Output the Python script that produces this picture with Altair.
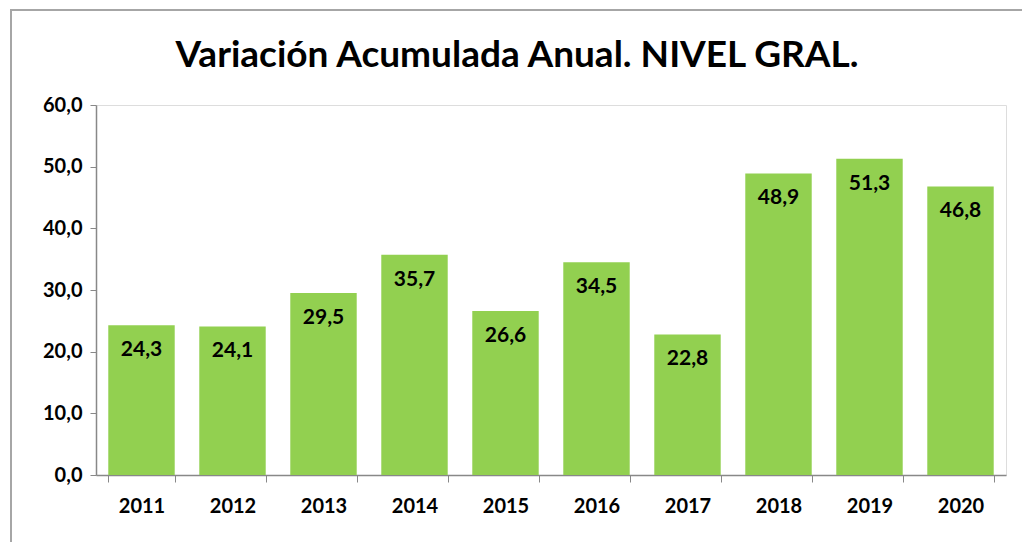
import altair as alt
import pandas as pd

years = ["2011", "2012", "2013", "2014", "2015", "2016", "2017", "2018", "2019", "2020"]
values = [24.3, 24.1, 29.5, 35.7, 26.6, 34.5, 22.8, 48.9, 51.3, 46.8]
labels = ["24,3", "24,1", "29,5", "35,7", "26,6", "34,5", "22,8", "48,9", "51,3", "46,8"]
y_ticks = [0, 10, 20, 30, 40, 50, 60]
title_text = "Variación Acumulada Anual. NIVEL GRAL."

df = pd.DataFrame({"year": years, "value": values, "label": labels})

FONT = "Lato"

x = alt.X("year:N", sort=years, title=None,
          scale=alt.Scale(paddingInner=0.27, paddingOuter=0.135),
          axis=alt.Axis(labelAngle=0, labelFont=FONT, labelFontWeight="bold",
                        labelFontSize=20, labelColor="#000000", labelPadding=14,
                        tickBand="extent", tickSize=7, tickColor="#888888",
                        domainColor="#888888", domainWidth=1.5))
y = alt.Y("value:Q", title=None,
          scale=alt.Scale(domain=[0, 60], nice=False),
          axis=alt.Axis(values=y_ticks, labelExpr="replace(format(datum.value, '.1f'), '.', ',')",
                        labelFont=FONT, labelFontWeight="bold", labelFontSize=20,
                        labelColor="#000000", labelPadding=8, tickSize=6,
                        tickColor="#888888", domainColor="#888888", domainWidth=1.5,
                        grid=False))

bars = alt.Chart(df).mark_bar(color="#92D050").encode(x=x, y=y)

text = alt.Chart(df).mark_text(font=FONT, fontWeight="bold", fontSize=21,
                               color="#000000", baseline="middle", dy=25).encode(
    x=alt.X("year:N", sort=years), y="value:Q", text="label:N")

border = alt.Chart(pd.DataFrame({"a": [0]})).mark_rect(
    fill=None, stroke="#a6a6a6", strokeWidth=2).encode(
    x=alt.value(-85), x2=alt.value(929), y=alt.value(-95), y2=alt.value(600))

title = alt.Chart(pd.DataFrame({"t": [title_text]})).mark_text(
    font=FONT, fontWeight="bold", fontSize=37, color="#000000",
    align="center", baseline="middle").encode(
    x=alt.value(421), y=alt.value(-49), text="t:N")

chart = alt.layer(border, title, bars, text).properties(
    width=910, height=370,
    autosize=alt.AutoSizeParams(type="none"),
    padding={"left": 88, "top": 97, "right": 16, "bottom": 67},
).configure_view(stroke="transparent", strokeWidth=0).configure(background="white")

chart.save("out.html", embed_options={"renderer": "svg", "actions": False})
